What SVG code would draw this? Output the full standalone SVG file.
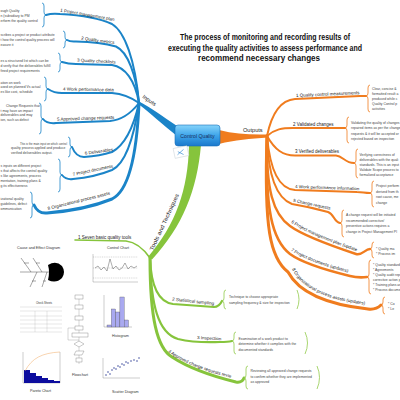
<svg xmlns="http://www.w3.org/2000/svg" width="400" height="400" viewBox="0 0 400 400">
<defs>
<linearGradient id="boxg" x1="0" y1="0" x2="0" y2="1">
<stop offset="0" stop-color="#86d4fb"/>
<stop offset="0.5" stop-color="#3ea5ea"/>
<stop offset="1" stop-color="#1a78cc"/>
</linearGradient>
<path id="tp-o6" d="M291,222.5 Q306,233.5 356,251"/>
<path id="tp-o7" d="M291,250.5 Q306,261.5 350,273"/>
<path id="tp-o8" d="M292,269 Q306,298 368,305"/>
<path id="tp-g4" d="M168,352 Q190,368 232,378"/>
</defs>
<style>
text{font-family:"Liberation Sans",Arial,sans-serif}
.title{font-size:9px;font-weight:bold;fill:#111}
.lbl{font-size:4.5px;fill:#222}
.l1{font-size:5.6px;fill:#222}
.desc{font-size:3.4px;fill:#444}
.cap{font-size:3.7px;fill:#333}
.bl{fill:none;stroke:#1b84c8;stroke-width:2;stroke-linecap:round}
.brb{fill:none;stroke:#1b84c8;stroke-width:0.8}
.ol{fill:none;stroke:#f07c1e;stroke-width:2;stroke-linecap:round}
.bro{fill:none;stroke:#f07c1e;stroke-width:0.8}
.gl{fill:none;stroke:#86c43c;stroke-width:2;stroke-linecap:round}
.brg{fill:none;stroke:#93cc4c;stroke-width:0.8}
.ax{fill:none;stroke:#555;stroke-width:0.3}
</style>
<rect width="400" height="400" fill="#fff"/>

<g id="title">
<text class="title" x="180" y="40" textLength="170" lengthAdjust="spacingAndGlyphs">The process of monitoring and recording results of</text>
<text class="title" x="168" y="50.5" textLength="194" lengthAdjust="spacingAndGlyphs">executing the quality activities to assess performance and</text>
<text class="title" x="198" y="61" textLength="122" lengthAdjust="spacingAndGlyphs">recommend necessary changes</text>
</g>

<g id="connectors">
<path d="M139,101.5 C150,107 162,116 177,126 L177,136 C162,124 150,113 139,104.5 Z" fill="#1b84c8"/>
<path d="M219,130 C235,134 250,135 268,134.5 L268,137.5 C250,138.5 235,140 219,144 Z" fill="#f07c1e"/>
<path d="M189,145 C188,190 176,224 148,257 L152,259.5 C183,226 197,190 201,145 Z" fill="#86c43c"/>
<path class="bl" d="M46,15 Q52,13 60,14 Q95,16 112,24 C125,32 135,60 139,103"/>
<path class="bl" d="M67,40 Q70,42 76,41.5 Q100,42 116,46.5 C128,52 136,75 139,103"/>
<path class="bl" d="M62,62 Q68,64 76,64 L112,65 C125,67 135,80 139,103"/>
<path class="bl" d="M48,89 Q54,93 62,93 L112,93 C125,94 132,98 139,103"/>
<path class="bl" d="M43,119 Q47,124 56,123 L110,121 C122,120 132,112 139,103"/>
<path class="bl" d="M72,147 Q76,157 84,157 Q100,156 112,152 C125,145 134,125 139,103"/>
<path class="bl" d="M62,175 Q66,180 73,179 Q95,177 112,170 C127,163 135,130 139,103"/>
<path class="bl" style="stroke-width:3" d="M34,205 Q38,214 47,213 Q85,210 112,199 C130,190 137,150 139,103"/>
<path class="ol" d="M267,136 C272,112 281,100 295,99 L360,96 Q364,96 366,96"/>
<path class="ol" d="M267,136 C275,129 282,128 293,128 L340,128 Q343,128 345,128"/>
<path class="ol" d="M267,136 C275,150 283,155.5 295,155.5 L336,155.5 C343,156 345,163 354,163"/>
<path class="ol" d="M267,136 C270,170 279,189 295,190 L357,192 C363,192 364,193 370,193"/>
<path class="ol" d="M267,136 C268,175 276,198 292,204 Q310,207 328,212 C334,214 334,222 340,223"/>
<path class="ol" style="stroke-width:2.4" d="M267,136 C266,190 273,214 290,226 Q305,237 356,254 C362,256 365,249 370,249"/>
<path class="ol" style="stroke-width:2.6" d="M267,136 C265,210 272,240 290,254 Q305,265 350,276 Q358,278 367,277"/>
<path class="ol" style="stroke-width:3" d="M267,136 C264,228 270,258 288,272 Q304,302 368,309 Q376,310 381,305"/>
<path class="gl" style="stroke-width:1.6" d="M75,240 L126,241 C135,242 143,248 150,258"/>
<path class="gl" style="stroke-width:2.2" d="M150,258 C151,285 158,302 173,304 L214,307 Q219,307 222,301"/>
<path class="gl" style="stroke-width:2.2" d="M150,258 C151,305 158,333 178,339 Q195,343 220,342 Q228,342 232,341"/>
<path class="gl" style="stroke-width:3" d="M150,258 C150,318 157,348 172,357 Q195,372 236,382 Q242,383 244,378"/>
<text class="l1" x="142" y="97.5" transform="rotate(35 142 97.5)">Inputs</text>
<text class="l1" x="243" y="131.5">Outputs</text>
<text class="l1" x="153" y="251" transform="rotate(-65 153 251)" textLength="62" lengthAdjust="spacingAndGlyphs">Tools and Techniques</text>
</g>

<g id="node-control-quality">
<rect x="175" y="125" width="45" height="21" rx="3" fill="url(#boxg)" stroke="#1a6fb8" stroke-width="0.6"/>
<text x="197.5" y="138.2" text-anchor="middle" font-size="5.2" fill="#1c2d5c">Control Quality</text>
<g transform="rotate(-12 181 152)"><rect x="174" y="147" width="14" height="10" fill="#fff" stroke="#b8c4cc" stroke-width="0.4"/><path d="M177,154 L184,150 M178,151 L183,155" stroke="#2f86d0" stroke-width="0.6"/></g>
</g>

<g id="input-1">
<text class="lbl" x="60" y="11.5" transform="rotate(10 60 11.5)">1 Project management plan</text>
<path class="brb" d="M42,3 Q44,3 44,6 L44,12 Q44,15 46,15 Q44,15 44,18 L44,24 Q44,27 42,27"/>
<text class="desc" x="0.5" y="11.5">ough Quality</text>
<text class="desc" x="0.5" y="16.5">n (subsidiary to PM</text>
<text class="desc" x="0.5" y="21.5">erform the quality control</text>
</g>
<g id="input-2">
<text class="lbl" x="81" y="39.5" transform="rotate(8 81 39.5)">2 Quality metrics</text>
<path class="brb" d="M63,31 Q65,31 65,34 L65,37 Q65,40 67,40 Q65,40 65,43 L65,45 Q65,48 63,48"/>
<text class="desc" x="0.5" y="35.5">scribes a project or product attribute</text>
<text class="desc" x="0.5" y="40.5">t how the control quality process will</text>
<text class="desc" x="0.5" y="45.5">easure it</text>
</g>
<g id="input-3">
<text class="lbl" x="77" y="61.5" transform="rotate(3 77 61.5)">3 Quality checklists</text>
<path class="brb" d="M58,53 Q60,53 60,56 L60,59 Q60,62 62,62 Q60,62 60,65 L60,69 Q60,72 58,72"/>
<text class="desc" x="0.5" y="61.5">es a structured list which can be</text>
<text class="desc" x="0.5" y="66.5">d verify that the deliverables fulfill</text>
<text class="desc" x="0.5" y="71.5">fined project requirements</text>
</g>
<g id="input-4">
<text class="lbl" x="63" y="90.5" transform="rotate(1 63 90.5)">4 Work performance data</text>
<path class="brb" d="M44,77 Q46,77 46,80 L46,86 Q46,89 48,89 Q46,89 46,92 L46,98 Q46,101 44,101"/>
<text class="desc" x="0.5" y="83.5">ation on work</text>
<text class="desc" x="0.5" y="88">ased on planned Vs actual</text>
<text class="desc" x="0.5" y="92.5">es like cost, schedule</text>
</g>
<g id="input-5">
<text class="lbl" x="57" y="120.8" transform="rotate(-2 57 120.8)">5 Approved change requests</text>
<path class="brb" d="M39,103 Q41,103 41,106 L41,116 Q41,119 43,119 Q41,119 41,122 L41,131 Q41,134 39,134"/>
<text class="desc" x="6" y="107">Change Requests that</text>
<text class="desc" x="0.5" y="111.5">t may have an impact</text>
<text class="desc" x="0.5" y="116">deliverables and may</text>
<text class="desc" x="0.5" y="120.5">ion, such as defect</text>
</g>
<g id="input-6">
<text class="lbl" x="85" y="154.8" transform="rotate(-8 85 154.8)">6 Deliverables</text>
<path class="brb" d="M68,137 Q70,137 70,140 L70,144 Q70,147 72,147 Q70,147 70,150 L70,154 Q70,157 68,157"/>
<text class="desc" x="20" y="144.5" textLength="47" lengthAdjust="spacingAndGlyphs">This is the main input on which control</text>
<text class="desc" x="11" y="149">quality process applied and produce</text>
<text class="desc" x="11" y="153.5">verified deliverables output.</text>
</g>
<g id="input-7">
<text class="lbl" x="73" y="176" transform="rotate(-12 73 176)">7 Project documents</text>
<path class="brb" d="M58,159 Q60,159 60,162 L60,172 Q60,175 62,175 Q60,175 60,178 L60,189 Q60,192 58,192"/>
<text class="desc" x="0.5" y="167">s inputs on different project</text>
<text class="desc" x="0.5" y="172">s that affects the control quality</text>
<text class="desc" x="0.5" y="177">s like agreements, process</text>
<text class="desc" x="0.5" y="182">mentation, training plans &amp;</text>
<text class="desc" x="0.5" y="187">g its effectiveness</text>
</g>
<g id="input-8">
<text class="lbl" x="48" y="210" transform="rotate(-14 48 210)">8 Organizational process assets</text>
<path class="brb" d="M30,192 Q32,192 32,195 L32,202 Q32,205 34,205 Q32,205 32,208 L32,215 Q32,218 30,218"/>
<text class="desc" x="0.5" y="200">izational quality</text>
<text class="desc" x="0.5" y="205">guidelines, defect</text>
<text class="desc" x="0.5" y="209.5">ommunication</text>
</g>

<g id="output-1">
<text class="lbl" x="296" y="97" transform="rotate(-2.6 296 97)">1 Quality control measurements</text>
<path class="bro" d="M370,85 Q368,85 368,88 L368,93 Q368,96 366,96 Q368,96 368,99 L368,109 Q368,112 370,112"/>
<text class="desc" x="372" y="90">Clear, concise &amp;</text>
<text class="desc" x="372" y="95">formatted result a</text>
<text class="desc" x="372" y="100">produced while c</text>
<text class="desc" x="372" y="105">Quality Control p</text>
<text class="desc" x="372" y="110">activities</text>
</g>
<g id="output-2">
<text class="lbl" x="293" y="125.8">2 Validated changes</text>
<path class="bro" d="M349,117 Q347,117 347,120 L347,125 Q347,128 345,128 Q347,128 347,131 L347,140 Q347,143 349,143"/>
<text class="desc" x="351" y="123.5">Validating the quality of changes</text>
<text class="desc" x="351" y="129">repaired items as per the change</text>
<text class="desc" x="351" y="134.5">requests &amp; it will be accepted or</text>
<text class="desc" x="351" y="140">rejected based on inspection</text>
</g>
<g id="output-3">
<text class="lbl" x="295" y="153.3">3 Verified deliverables</text>
<path class="bro" d="M358,149 Q356,149 356,152 L356,160 Q356,163 354,163 Q356,163 356,166 L356,175 Q356,178 358,178"/>
<text class="desc" x="359.5" y="155.5">Verifying correctness of</text>
<text class="desc" x="359.5" y="160.5">deliverables with the quali</text>
<text class="desc" x="359.5" y="165.5">standards. This is an input</text>
<text class="desc" x="359.5" y="170.5">Validate Scope process to</text>
<text class="desc" x="359.5" y="175.5">formalized acceptance</text>
</g>
<g id="output-4">
<text class="lbl" x="295" y="188" transform="rotate(2 295 188)">4 Work performance information</text>
<path class="bro" d="M374,181 Q372,181 372,184 L372,190 Q372,193 370,193 Q372,193 372,196 L372,204 Q372,207 374,207"/>
<text class="desc" x="376" y="187">Project perform</text>
<text class="desc" x="376" y="192.5">derived from th</text>
<text class="desc" x="376" y="198">root cause, me</text>
<text class="desc" x="376" y="203.5">change</text>
</g>
<g id="output-5">
<text class="lbl" x="293" y="201.8" transform="rotate(12 293 201.8)">5 Change requests</text>
<path class="bro" d="M344,210 Q342,210 342,213 L342,220 Q342,223 340,223 Q342,223 342,226 L342,234 Q342,237 344,237"/>
<text class="desc" x="346" y="216">A change request will be initiated</text>
<text class="desc" x="346" y="221.5">recommended corrective/</text>
<text class="desc" x="346" y="227">preventive actions requires a</text>
<text class="desc" x="346" y="232.5">change in Project Management Pl</text>
</g>
<g id="output-6">
<text class="lbl"><textPath href="#tp-o6">6 Project management plan (updates)</textPath></text>
<path class="bro" d="M374,242 Q372,242 372,245 L372,246 Q372,249 370,249 Q372,249 372,252 L372,255 Q372,258 374,258"/>
<text class="desc" x="376" y="249.5">* Quality ma</text>
<text class="desc" x="376" y="255">* Process im</text>
</g>
<g id="output-7">
<text class="lbl"><textPath href="#tp-o7">7 Project documents (updates)</textPath></text>
<path class="bro" d="M371,260 Q369,260 369,263 L369,274 Q369,277 367,277 Q369,277 369,280 L369,291 Q369,294 371,294"/>
<text class="desc" x="373" y="266">* Quality standards</text>
<text class="desc" x="373" y="271">* Agreements</text>
<text class="desc" x="373" y="276">* Quality audit repo</text>
<text class="desc" x="373" y="281">corrective action pl</text>
<text class="desc" x="373" y="286">* Training plans an</text>
<text class="desc" x="373" y="291">* Process documen</text>
</g>
<g id="output-8">
<text class="lbl"><textPath href="#tp-o8">8 Organizational process assets (updates)</textPath></text>
<path class="bro" d="M385,297 Q383,297 383,300 L383,302 Q383,305 381,305 Q383,305 383,308 L383,311 Q383,314 385,314"/>
<text class="desc" x="388" y="304.5">* Co</text>
<text class="desc" x="388" y="309.5">* Le</text>
</g>

<g id="tool-1">
<text class="lbl" x="78" y="238.5">1 Seven basic quality tools</text>
</g>
<g id="tool-2">
<text class="lbl" x="172" y="300.5" transform="rotate(6 172 300.5)">2 Statistical sampling</text>
<path class="brg" d="M226,290 Q224,290 224,293 L224,298 Q224,301 222,301 Q224,301 224,304 L224,306 Q224,309 226,309"/>
<path class="brg" d="M297,290 Q301,299.5 297,309"/>
<text class="desc" x="229" y="298">Technique to choose appropriate</text>
<text class="desc" x="229" y="303.5">sampling frequency &amp; size for inspection</text>
</g>
<g id="tool-3">
<text class="lbl" x="197" y="339" transform="rotate(3 197 339)">3 Inspection</text>
<path class="brg" d="M236,332 Q234,332 234,335 L234,338 Q234,341 232,341 Q234,341 234,344 L234,351 Q234,354 236,354"/>
<path class="brg" d="M305,332 Q310,343 305,354"/>
<text class="desc" x="238.5" y="339.5">Examination of a work product to</text>
<text class="desc" x="238.5" y="345">determine whether it complies with the</text>
<text class="desc" x="238.5" y="350.5">documented standards</text>
</g>
<g id="tool-4">
<text class="lbl"><textPath href="#tp-g4">4 Approved change requests review</textPath></text>
<path class="brg" d="M248,366 Q246,366 246,369 L246,375 Q246,378 244,378 Q246,378 246,381 L246,386 Q246,389 248,389"/>
<path class="brg" d="M317,366 Q322,377.5 317,389"/>
<text class="desc" x="250.5" y="372">Reviewing all approved change requests</text>
<text class="desc" x="250.5" y="377.5">to confirm whether they are implemented</text>
<text class="desc" x="250.5" y="383">as approved</text>
</g>

<g id="img-fishbone">
<text class="cap" x="17" y="249">Cause and Effect Diagram</text>
<g stroke="#222" stroke-width="0.4" fill="none">
<path d="M20,272 L49,272"/>
<path d="M21,258 L31,272 M33,258 L42,272 M30,287 L37,272 M42,287 L47,272"/>
<path d="M24,263 L29,263 M36,263 L40,263 M32,281 L36,281 M43,281 L46,281"/>
</g>
<path d="M48,265 Q56,260 62,266 Q66,272 62,278 Q56,284 48,280 Q50,272 48,265 Z" fill="#000"/>
</g>
<g id="img-control-chart">
<text class="cap" x="107" y="249">Control Chart</text>
<path class="ax" d="M93,254 L93,282 L138,282"/>
<path d="M93,257 L138,257 M93,268 L138,268 M93,278 L138,278" stroke="#777" stroke-width="0.3" stroke-dasharray="1,0.8"/>
<polyline fill="none" stroke="#333" stroke-width="0.4" points="95,268 98,266 101,270 104,267 107,271 110,259 113,269 116,266 119,270 122,268 125,263 128,269 131,266 134,268 137,266"/>
</g>
<g id="img-check-sheet">
<text x="36" y="304" font-size="2.6" fill="#333">Check Sheets</text>
<g stroke="#aaa" stroke-width="0.3">
<path d="M20,307 L62,307 M20,311 L62,311 M20,316 L62,316 M20,320 L62,320 M20,324 L62,324 M20,328 L62,328 M20,332 L62,332"/>
<path d="M35,311 L35,332 M47,311 L47,332"/>
</g>
</g>
<g id="img-flowchart">
<path d="M79,295 L79,364 M79,340 L68,340 L68,328 L75,328" stroke="#777" stroke-width="0.3" fill="none"/>
<g fill="#fff" stroke="#666" stroke-width="0.35">
<rect x="75" y="295" width="8" height="4"/>
<rect x="75" y="305" width="8" height="4"/>
<rect x="75" y="316" width="8" height="4"/>
<rect x="75" y="326" width="8" height="4"/>
<rect x="72" y="333" width="16" height="4"/>
<path d="M79,341 L84,344 L79,347 L74,344 Z"/>
<path d="M76,351 L84,351 L82,355 L74,355 Z"/>
<rect x="76" y="358" width="6" height="4"/>
</g>
<text class="cap" x="72" y="376">Flowchart</text>
</g>
<g id="img-histogram">
<path class="ax" d="M104,295 L104,327 L132,327"/>
<g fill="#a9a9f0" stroke="#444" stroke-width="0.3">
<rect x="107" y="325" width="4.3" height="2"/>
<rect x="111.3" y="309" width="4.3" height="18"/>
<rect x="115.6" y="312" width="4.3" height="15"/>
<rect x="119.9" y="297" width="4.3" height="30"/>
<rect x="124.2" y="320" width="4.3" height="7"/>
</g>
<text class="cap" x="112" y="337">Histogram</text>
</g>
<g id="img-pareto">
<path class="ax" d="M23,352 L23,383 L60,383 L60,352"/>
<g fill="#0d0d9e">
<rect x="24" y="370" width="6" height="13"/>
<rect x="30" y="373" width="6" height="10"/>
<rect x="36" y="376" width="6" height="7"/>
<rect x="42" y="378" width="6" height="5"/>
<rect x="48" y="380" width="6" height="3"/>
<rect x="54" y="381" width="6" height="2"/>
</g>
<path d="M25,371 C32,358 42,353 60,352" fill="none" stroke="#f0a860" stroke-width="0.5"/>
<text class="cap" x="30" y="392">Pareto Chart</text>
</g>
<g id="img-scatter">
<path class="ax" d="M103,358 L103,378 L140,378"/>
<g fill="#1a2a8a">
<circle cx="106" cy="375" r="0.7"/><circle cx="108" cy="372" r="0.7"/><circle cx="110" cy="374" r="0.7"/><circle cx="112" cy="370" r="0.7"/>
<circle cx="114" cy="368" r="0.7"/><circle cx="116" cy="369" r="0.7"/><circle cx="118" cy="366" r="0.7"/><circle cx="120" cy="367" r="0.7"/>
<circle cx="122" cy="364" r="0.7"/><circle cx="124" cy="365" r="0.7"/><circle cx="126" cy="362" r="0.7"/><circle cx="128" cy="363" r="0.7"/>
<circle cx="131" cy="361" r="0.7"/><circle cx="134" cy="360" r="0.7"/><circle cx="137" cy="361" r="0.7"/><circle cx="139" cy="358" r="0.7"/>
</g>
<text class="cap" x="112" y="393">Scatter Diagram</text>
</g>
</svg>
